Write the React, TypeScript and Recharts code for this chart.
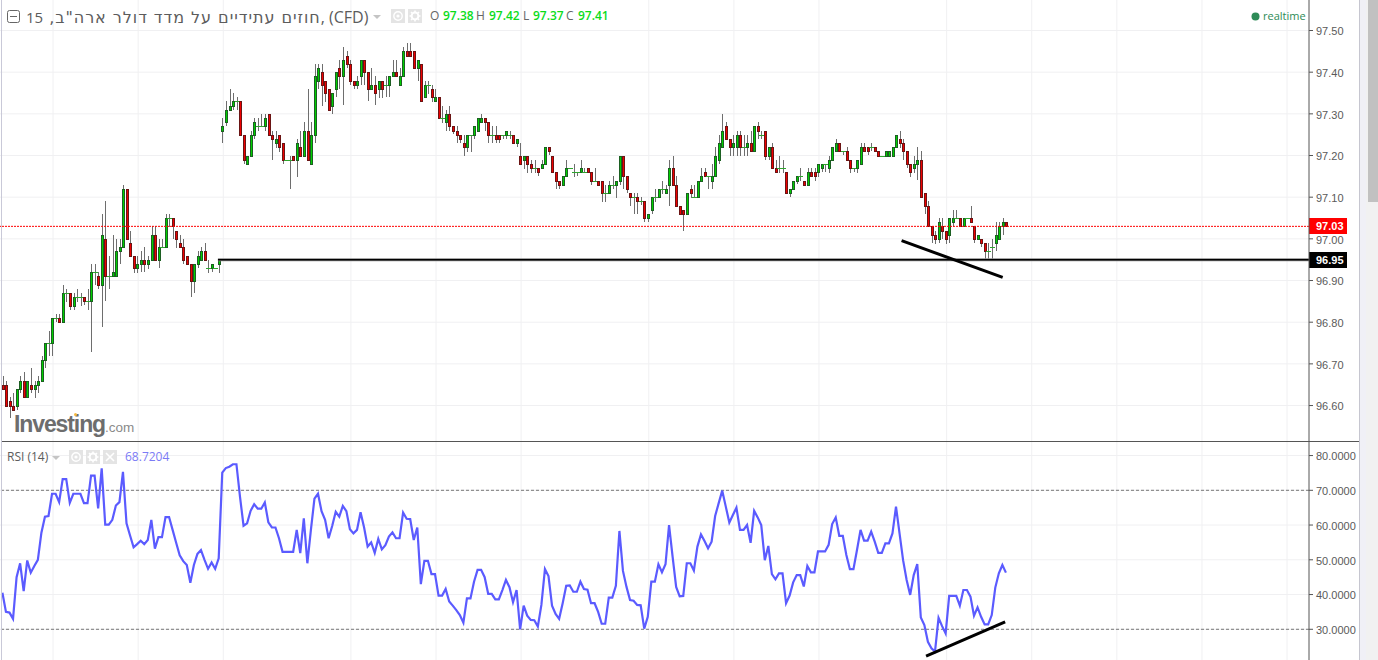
import { Bar, CartesianGrid, ComposedChart, Line, ReferenceLine, XAxis, YAxis } from "recharts";

// 15 minute candles
const opens = [
  96.65,96.65,96.61,96.60,96.60,96.64,96.66,96.62,96.65,96.64,
  96.65,96.66,96.71,96.75,96.75,96.81,96.81,96.80,96.87,96.87,
  96.84,96.86,96.86,96.86,96.85,96.85,96.92,96.91,96.89,97.00,
  96.91,96.91,96.91,96.97,96.98,97.12,96.99,96.96,96.93,96.94,
  96.95,96.94,96.95,97.01,96.95,96.98,96.98,97.05,97.05,97.02,
  96.99,96.98,96.96,96.94,96.90,96.94,96.95,96.97,96.93,96.93,
  96.93,96.94,97.26,97.28,97.31,97.32,97.33,97.33,97.25,97.18,
  97.20,97.25,97.27,97.27,97.27,97.30,97.25,97.23,97.25,97.23,
  97.19,97.19,97.20,97.19,97.22,97.20,97.26,97.18,97.25,97.38,
  97.40,97.38,97.36,97.32,97.36,97.41,97.39,97.44,97.42,97.38,
  97.37,97.39,97.43,97.40,97.36,97.37,97.36,97.38,97.37,97.37,
  97.39,97.40,97.37,97.39,97.45,97.45,97.45,97.41,97.42,97.34,
  97.37,97.36,97.33,97.34,97.29,97.28,97.30,97.27,97.26,97.25,
  97.23,97.22,97.25,97.25,97.26,97.28,97.29,97.28,97.25,97.25,
  97.25,97.25,97.25,97.25,97.25,97.23,97.20,97.19,97.20,97.18,
  97.17,97.17,97.17,97.18,97.22,97.20,97.16,97.14,97.13,97.15,
  97.17,97.16,97.16,97.16,97.16,97.17,97.16,97.14,97.14,97.14,
  97.11,97.11,97.13,97.13,97.14,97.20,97.15,97.11,97.10,97.10,
  97.09,97.09,97.05,97.07,97.10,97.10,97.12,97.11,97.13,97.17,
  97.13,97.08,97.07,97.06,97.12,97.10,97.10,97.14,97.16,97.15,
  97.14,97.15,97.19,97.22,97.27,97.24,97.22,97.22,97.25,97.22,
  97.22,97.23,97.21,97.27,97.25,97.26,97.20,97.22,97.17,97.17,
  97.17,97.16,97.11,97.12,97.14,97.15,97.14,97.13,97.16,97.16,
  97.16,97.17,97.18,97.17,97.19,97.21,97.23,97.21,97.21,97.19,
  97.17,97.17,97.18,97.22,97.22,97.22,97.22,97.21,97.20,97.20,
  97.20,97.20,97.22,97.24,97.23,97.21,97.18,97.17,97.18,97.19,
  97.11,97.08,97.03,97.01,97.00,97.03,97.02,97.01,97.04,97.05,
  97.05,97.03,97.05,97.05,97.03,97.00,97.00,96.99,96.97,96.98,
  96.99,97.00,97.03,97.04,
];
const closes = [
  96.64,96.60,96.60,96.59,96.64,96.66,96.62,96.66,96.64,96.65,
  96.66,96.71,96.75,96.75,96.81,96.81,96.80,96.87,96.87,96.84,
  96.86,96.86,96.86,96.85,96.85,96.92,96.92,96.89,97.01,96.91,
  96.91,96.92,96.97,96.98,97.12,97.00,96.96,96.93,96.94,96.95,
  96.94,96.95,97.01,96.95,96.98,96.98,97.05,97.05,97.03,97.00,
  96.98,96.95,96.94,96.90,96.94,96.96,96.97,96.95,96.93,96.94,
  96.93,96.95,97.27,97.31,97.32,97.33,97.33,97.25,97.19,97.20,
  97.25,97.28,97.27,97.27,97.29,97.25,97.24,97.24,97.22,97.19,
  97.19,97.19,97.19,97.23,97.20,97.26,97.19,97.25,97.39,97.41,
  97.37,97.35,97.31,97.35,97.40,97.39,97.43,97.42,97.38,97.37,
  97.38,97.43,97.40,97.36,97.37,97.35,97.38,97.36,97.37,97.39,
  97.40,97.39,97.39,97.45,97.44,97.44,97.41,97.43,97.33,97.37,
  97.37,97.34,97.34,97.29,97.29,97.30,97.27,97.26,97.25,97.24,
  97.22,97.25,97.25,97.27,97.29,97.29,97.28,97.25,97.25,97.24,
  97.24,97.25,97.26,97.25,97.23,97.24,97.18,97.20,97.18,97.17,
  97.17,97.16,97.18,97.22,97.21,97.16,97.14,97.13,97.15,97.17,
  97.17,97.16,97.16,97.17,97.16,97.16,97.14,97.14,97.13,97.11,
  97.11,97.13,97.13,97.14,97.20,97.15,97.12,97.10,97.10,97.09,
  97.09,97.05,97.06,97.10,97.10,97.12,97.12,97.12,97.17,97.13,
  97.08,97.06,97.06,97.11,97.11,97.10,97.14,97.15,97.15,97.15,
  97.15,97.20,97.23,97.26,97.24,97.22,97.23,97.25,97.22,97.22,
  97.23,97.21,97.27,97.26,97.25,97.20,97.22,97.17,97.16,97.17,
  97.17,97.11,97.12,97.14,97.15,97.15,97.13,97.16,97.15,97.15,
  97.18,97.18,97.18,97.19,97.22,97.23,97.21,97.21,97.19,97.17,
  97.17,97.19,97.22,97.21,97.21,97.22,97.21,97.20,97.20,97.21,
  97.21,97.22,97.25,97.23,97.21,97.18,97.16,97.18,97.19,97.10,
  97.08,97.03,97.01,97.00,97.04,97.02,97.00,97.05,97.05,97.05,
  97.03,97.05,97.05,97.04,97.00,97.01,96.99,96.97,96.97,96.98,
  97.01,97.03,97.04,97.03,
];
const highs = [
  96.67,96.66,96.62,96.63,96.64,96.67,96.68,96.66,96.69,96.66,
  96.67,96.72,96.75,96.78,96.81,96.82,96.82,96.89,96.88,96.87,
  96.87,96.88,96.87,96.86,96.88,96.94,96.94,96.92,97.06,97.09,
  96.96,97.01,97.00,97.00,97.13,97.12,97.02,96.96,96.96,96.97,
  96.98,96.96,97.03,97.03,97.00,97.00,97.06,97.06,97.05,97.02,
  97.01,97.00,96.96,96.94,96.94,96.97,96.98,96.99,96.95,96.94,
  96.93,96.95,97.29,97.33,97.36,97.35,97.34,97.33,97.25,97.20,
  97.26,97.29,97.29,97.30,97.30,97.30,97.26,97.26,97.25,97.23,
  97.19,97.20,97.20,97.24,97.26,97.28,97.36,97.28,97.42,97.42,
  97.42,97.38,97.36,97.35,97.40,97.43,97.46,97.45,97.43,97.38,
  97.39,97.43,97.43,97.40,97.41,97.39,97.38,97.38,97.39,97.39,
  97.43,97.43,97.41,97.46,97.47,97.47,97.45,97.43,97.42,97.38,
  97.38,97.37,97.36,97.34,97.32,97.31,97.32,97.27,97.27,97.25,
  97.25,97.25,97.25,97.27,97.29,97.30,97.29,97.28,97.27,97.27,
  97.25,97.25,97.26,97.26,97.25,97.24,97.23,97.20,97.20,97.19,
  97.19,97.17,97.19,97.22,97.22,97.20,97.16,97.14,97.15,97.19,
  97.17,97.18,97.16,97.19,97.17,97.17,97.16,97.17,97.14,97.14,
  97.13,97.14,97.15,97.14,97.20,97.20,97.15,97.11,97.11,97.11,
  97.10,97.09,97.06,97.10,97.12,97.12,97.14,97.13,97.19,97.20,
  97.15,97.08,97.07,97.11,97.13,97.13,97.14,97.17,97.17,97.15,
  97.18,97.22,97.25,97.30,97.28,97.24,97.25,97.26,97.26,97.25,
  97.25,97.26,97.27,97.28,97.26,97.26,97.22,97.23,97.19,97.20,
  97.19,97.16,97.12,97.14,97.15,97.17,97.14,97.17,97.17,97.17,
  97.18,97.18,97.18,97.20,97.22,97.24,97.23,97.21,97.22,97.19,
  97.17,97.19,97.23,97.23,97.22,97.23,97.22,97.21,97.20,97.21,
  97.21,97.22,97.25,97.26,97.24,97.21,97.18,97.20,97.22,97.21,
  97.11,97.09,97.03,97.02,97.05,97.05,97.02,97.05,97.07,97.07,
  97.05,97.05,97.05,97.08,97.03,97.01,97.00,96.99,96.99,97.00,
  97.04,97.04,97.05,97.04,
];
const lows = [
  96.64,96.60,96.57,96.59,96.59,96.63,96.62,96.62,96.63,96.62,
  96.63,96.66,96.69,96.72,96.72,96.80,96.80,96.80,96.85,96.83,
  96.83,96.85,96.84,96.84,96.83,96.73,96.89,96.88,96.79,96.85,
  96.88,96.91,96.91,96.94,96.98,97.00,96.96,96.92,96.92,96.92,
  96.92,96.93,96.95,96.95,96.93,96.98,96.98,97.03,97.00,96.98,
  96.98,96.94,96.94,96.86,96.87,96.93,96.95,96.95,96.92,96.92,
  96.93,96.92,97.23,97.27,97.31,97.31,97.31,97.25,97.18,97.18,
  97.20,97.24,97.26,97.27,97.26,97.25,97.19,97.22,97.21,97.18,
  97.19,97.12,97.19,97.15,97.20,97.20,97.19,97.18,97.23,97.36,
  97.32,97.33,97.31,97.30,97.34,97.36,97.32,97.41,97.37,97.36,
  97.36,97.37,97.37,97.33,97.36,97.32,97.34,97.34,97.34,97.34,
  97.39,97.39,97.37,97.39,97.44,97.44,97.41,97.38,97.33,97.34,
  97.35,97.33,97.33,97.29,97.28,97.26,97.26,97.25,97.23,97.23,
  97.20,97.21,97.21,97.24,97.26,97.28,97.26,97.23,97.23,97.23,
  97.23,97.24,97.24,97.24,97.23,97.22,97.18,97.17,97.16,97.16,
  97.16,97.15,97.17,97.18,97.20,97.16,97.12,97.12,97.13,97.15,
  97.17,97.15,97.15,97.16,97.16,97.16,97.13,97.14,97.13,97.09,
  97.09,97.11,97.12,97.10,97.13,97.12,97.11,97.08,97.06,97.06,
  97.08,97.04,97.04,97.06,97.09,97.10,97.11,97.11,97.08,97.13,
  97.08,97.06,97.02,97.06,97.10,97.10,97.10,97.14,97.15,97.12,
  97.12,97.15,97.18,97.22,97.24,97.20,97.20,97.20,97.20,97.20,
  97.20,97.21,97.21,97.24,97.24,97.19,97.19,97.17,97.16,97.16,
  97.16,97.11,97.10,97.12,97.13,97.14,97.13,97.13,97.15,97.14,
  97.15,97.16,97.16,97.16,97.19,97.21,97.21,97.20,97.19,97.16,
  97.16,97.16,97.18,97.21,97.20,97.21,97.21,97.20,97.20,97.20,
  97.20,97.20,97.22,97.22,97.19,97.17,97.15,97.16,97.14,97.10,
  97.06,97.03,96.99,96.99,96.99,97.00,96.99,96.99,97.03,97.05,
  97.03,97.03,97.05,97.04,96.99,97.00,96.98,96.95,96.95,96.95,
  96.97,97.00,97.01,97.03,
];
const rsiValues = [
  40.5,35,34.8,33,45,49,41,49.8,46.3,48.2,
  50,57.8,62.4,62.6,69,69,66.6,73.2,73.2,66.4,
  69,69,69,66.3,66.3,74.2,74.2,64.8,76.3,60.1,
  60.1,61.5,65.6,66.6,75.3,60.5,57,53.6,54.5,55.5,
  54.5,55.7,61.5,53.2,56.5,56.5,62.3,62.3,58.6,54.9,
  51.3,49.6,48.5,43.4,48.5,51.7,52.8,50,47.4,49.2,
  47.4,50.4,75.1,76.4,76.8,77.5,77.5,68.2,59.8,60.5,
  64.1,66,64.7,64.7,66.5,60.8,59.3,59.3,56.2,52.3,
  52.3,52.3,52.3,58.6,51.9,61.9,49,58.6,67.6,69,
  64,61.5,56.2,59.7,63.8,62.4,65.5,64,58.8,57.6,
  58.6,63.7,59.3,53.8,55,52,56,53,54.2,56.7,
  57.9,56.2,56.2,63.6,61.8,61.7,55.7,59.3,43,49.7,
  49.7,45.9,45.9,39.7,39.7,41.6,38,36.8,35.5,34.1,
  31.9,38.9,38.9,43.7,47.1,47.1,45,40.2,40.2,38.6,
  38.6,41.3,44.2,42.1,37.8,41.3,30,36.8,33.9,32.7,
  32.6,30.8,37,47.3,45.3,36.8,34.4,33,37.5,42.5,
  42.6,40.8,40.8,43.7,41.6,41.4,37.5,37.5,35,31.6,
  31.6,39.1,39.1,42.5,58.3,46.8,42.2,38.4,38.2,37,
  36.9,30.2,33.6,43.7,43.7,48.7,46.4,48.7,60,50.9,
  42.2,39.5,39.6,49,49,46.9,53.8,57.3,55.4,53.3,
  55.2,62.6,66.3,69.9,65.3,60.7,62.9,65,58.6,58.6,
  60,54.9,64.1,62.2,60,49.9,54,45.9,44.4,46.1,
  46.1,37.5,39.7,43.5,45.6,45.6,42.3,48.2,46.4,46.4,
  52.4,52.4,52.4,54.3,60.3,62.2,56.9,56.9,51.4,47.3,
  47.3,52.8,58.6,55.5,55.5,58.1,55.2,52,52,54.7,
  54.7,57.6,65.3,57.6,49.9,44.2,39.9,45.6,48.8,33.4,
  31.2,26.4,24.5,23.6,33.3,30.9,28.8,39.6,39.6,39.6,
  36.8,41.3,41.3,39.4,33.9,36.3,33.6,31.4,31.4,34.1,
  42,46.1,48.5,46.3,
];

const priceTicks = [96.6, 96.7, 96.8, 96.9, 97.0, 97.1, 97.2, 97.3, 97.4, 97.5];
const rsiTicks = [30, 40, 50, 60, 70, 80];
// bars that carry a vertical grid line
const gridBars = [14, 38, 62, 98, 122, 146, 182, 206, 230, 266, 290, 314, 338, 362];

const lastPrice = 97.03;
const levelPrice = 96.95;
const priceTrend = [{ i: 253.3, v: 96.9956 }, { i: 281.8, v: 96.9077 }];
const rsiTrend = [{ i: 260.2, v: 22.3 }, { i: 282.5, v: 32.1 }];
const ohlcHeader = [
  { label: "O", x: 430, value: "97.38", vx: 443 },
  { label: "H", x: 476, value: "97.42", vx: 489 },
  { label: "L", x: 523, value: "97.37", vx: 533 },
  { label: "C", x: 566, value: "97.41", vx: 578 },
];

const candles = opens.map((open, i) => ({
  i,
  open,
  high: highs[i],
  low: lows[i],
  close: closes[i],
  rsi: rsiValues[i],
}));

const WIDTH = 1359;
const PLOT = 1309;
const xDomain: [number, number] = [-0.959, 368.19];
// the rsi line sits a pixel left of the candles
const rsiXDomain: [number, number] = [-0.677, 368.47];
const sans = "'Liberation Sans', Arial, sans-serif";
const ui = "'Open Sans', sans-serif";
const tickStyle = { fill: "#5a5a5a", fontSize: 11, fontFamily: sans, dy: 1 };
const GRID = "#f0f0f2";

function Candle(props: any) {
  const { x, y, width, height, payload } = props;
  const { open, close, high, low } = payload;
  const span = high - low || 1;
  const px = (v: number) => Math.round(y + ((high - v) / span) * height);
  const left = Math.round(x + width / 2 - 1.5);
  const top = px(Math.max(open, close));
  const bottom = px(Math.min(open, close));
  const wick = (
    <rect x={left + 1} y={Math.round(y)} width={1} height={Math.max(Math.round(height), 1)} fill="#6e6e6e" />
  );
  if (open === close) {
    return (
      <g>
        {wick}
        <rect x={left - 1} y={top} width={5} height={1} fill="#2fa52f" />
      </g>
    );
  }
  const up = close > open;
  return (
    <g>
      {wick}
      <rect
        x={left + 0.5}
        y={top + 0.5}
        width={2}
        height={bottom - top}
        fill={up ? "#00d000" : "#ee0000"}
        stroke={up ? "#1c5f22" : "#6a1414"}
        strokeWidth={1}
      />
    </g>
  );
}

function PriceTag(props: any) {
  const { viewBox, text, fill } = props;
  const y = Math.round(viewBox.y);
  return (
    <g>
      <rect x={PLOT} y={y - 8} width={38} height={16} fill={fill} />
      <text x={PLOT + 7} y={y + 4} fill="#fff" fontSize={11} fontWeight="bold" fontFamily={sans}>
        {text}
      </text>
    </g>
  );
}

function IconBox({ x, y, kind }: { x: number; y: number; kind: "eye" | "gear" | "close" }) {
  return (
    <svg style={{ position: "absolute", left: x, top: y }} width={14} height={14}>
      <rect width={14} height={14} fill="#e4e4e4" />
      {kind === "eye" && (
        <>
          <circle cx={7} cy={7} r={4.2} fill="none" stroke="#fff" strokeWidth={1.4} />
          <circle cx={7} cy={7} r={1.6} fill="#fff" />
        </>
      )}
      {kind === "gear" && (
        <>
          <circle cx={7} cy={7} r={3.4} fill="none" stroke="#fff" strokeWidth={2} />
          <path d="M7 1.5V3.5M7 10.5V12.5M1.5 7H3.5M10.5 7H12.5M3 3L4.4 4.4M9.6 9.6L11 11M11 3L9.6 4.4M4.4 9.6L3 11" stroke="#fff" strokeWidth={1.5} />
        </>
      )}
      {kind === "close" && <path d="M3 3L11 11M11 3L3 11" stroke="#fff" strokeWidth={1.6} />}
    </svg>
  );
}

function Caret({ x, y }: { x: number; y: number }) {
  return (
    <svg style={{ position: "absolute", left: x, top: y }} width={8} height={4}>
      <path d="M0 0H8L4 4Z" fill="#c4c4c4" />
    </svg>
  );
}

function Label({ x, y, color, size, children, weight, font }: any) {
  return (
    <div
      style={{
        position: "absolute",
        left: x,
        top: y,
        color,
        fontSize: size,
        fontWeight: weight || 400,
        fontFamily: font || ui,
        lineHeight: "18px",
        whiteSpace: "nowrap",
      }}
    >
      {children}
    </div>
  );
}

export default function App() {
  return (
    <div style={{ position: "fixed", left: 0, top: 0, width: 1378, height: 660, overflow: "hidden", background: "#fff" }}>
      <div style={{ position: "absolute", left: 0, top: 0 }}>
        <ComposedChart width={WIDTH} height={441} data={candles} margin={{ top: 0, right: 0, bottom: 0, left: 0 }}>
          <CartesianGrid stroke={GRID} horizontalValues={priceTicks} verticalValues={gridBars} />
          <XAxis dataKey="i" type="number" domain={xDomain} hide allowDataOverflow />
          <YAxis
            orientation="right"
            width={50}
            domain={[96.5149, 97.5732]}
            ticks={priceTicks}
            interval={0}
            allowDataOverflow
            tickFormatter={(v: number) => v.toFixed(2)}
            tick={tickStyle}
            tickSize={4}
            tickMargin={3}
            stroke="#555"
          />
          <ReferenceLine y={lastPrice} stroke="#f00" strokeDasharray="2 1" label={<PriceTag text={lastPrice.toFixed(2)} fill="#f00" />} />
          <Bar dataKey={(d: any) => [d.low, d.high]} barSize={3} shape={<Candle />} isAnimationActive={false} />
          <ReferenceLine
            segment={[{ x: 60.5, y: levelPrice }, { x: xDomain[1], y: levelPrice }]}
            stroke="#8a8a8a"
            strokeWidth={3}
          />
          <ReferenceLine
            segment={[{ x: 60.5, y: levelPrice }, { x: xDomain[1], y: levelPrice }]}
            stroke="#000"
            strokeWidth={1.5}
          />
          <ReferenceLine y={levelPrice} stroke="none" label={<PriceTag text={levelPrice.toFixed(2)} fill="#000" />} />
          <ReferenceLine
            segment={[{ x: priceTrend[0].i, y: priceTrend[0].v }, { x: priceTrend[1].i, y: priceTrend[1].v }]}
            stroke="#000"
            strokeWidth={3}
          />
        </ComposedChart>
      </div>
      <div style={{ position: "absolute", left: 0, top: 442 }}>
        <ComposedChart width={WIDTH} height={218} data={candles} margin={{ top: 0, right: 0, bottom: 0, left: 0 }}>
          <CartesianGrid stroke={GRID} horizontalValues={rsiTicks} verticalValues={gridBars} />
          <XAxis dataKey="i" type="number" domain={xDomain} hide allowDataOverflow />
          <XAxis xAxisId="rsi" dataKey="i" type="number" domain={rsiXDomain} hide allowDataOverflow />
          <YAxis
            orientation="right"
            width={50}
            domain={[21.16, 83.9]}
            ticks={rsiTicks}
            interval={0}
            allowDataOverflow
            tickFormatter={(v: number) => v.toFixed(4)}
            tick={tickStyle}
            tickSize={4}
            tickMargin={3}
            stroke="#555"
          />
          <ReferenceLine y={70} stroke="#777" strokeDasharray="3 2" />
          <ReferenceLine y={30} stroke="#777" strokeDasharray="3 2" />
          <Line xAxisId="rsi" dataKey="rsi" type="linear" stroke="#5b5bff" strokeWidth={2.2} dot={false} isAnimationActive={false} />
          <ReferenceLine
            segment={[{ x: rsiTrend[0].i, y: rsiTrend[0].v }, { x: rsiTrend[1].i, y: rsiTrend[1].v }]}
            stroke="#000"
            strokeWidth={3}
          />
        </ComposedChart>
      </div>

      {/* frame */}
      <div style={{ position: "absolute", left: 1, top: 0, width: 1, height: 660, background: "#c9c9d8" }} />
      <div style={{ position: "absolute", left: 2, top: 441, width: 1357, height: 1, background: "#555" }} />
      <div style={{ position: "absolute", left: 1359, top: 0, width: 1, height: 660, background: "#c6c6d0" }} />
      <div style={{ position: "absolute", left: 1360, top: 0, width: 6, height: 660, background: "#f0f0f6" }} />
      <div style={{ position: "absolute", left: 1366, top: 0, width: 12, height: 660, background: "#f1f1f1" }} />
      <div style={{ position: "absolute", left: 1368, top: 0, width: 10, height: 202, background: "#c1c1c1" }} />

      {/* header */}
      <svg style={{ position: "absolute", left: 7, top: 10 }} width={13} height={13}>
        <rect x={0.5} y={0.5} width={12} height={12} rx={2} fill="none" stroke="#666" />
        <path d="M3 6.5H10" stroke="#666" />
      </svg>
      <Label x={26} y={8} color="#5c5c5c" size={15}>
        <span style={{ fontFamily: "'DejaVu Sans', sans-serif", fontSize: 16, letterSpacing: 0.95 }}>{'חוזים עתידיים על מדד דולר ארה"ב, '}</span>
        <span>15</span>
        <span style={{ fontSize: 16 }}>, (CFD)</span>
      </Label>
      <Caret x={373} y={15} />
      <IconBox x={391} y={9} kind="eye" />
      <IconBox x={408} y={9} kind="gear" />
      {ohlcHeader.map((h) => (
        <span key={h.label}>
          <Label x={h.x} y={7} color="#666" size={12}>{h.label}</Label>
          <Label x={h.vx} y={7} color="#0bdc1a" size={12} weight={600}>{h.value}</Label>
        </span>
      ))}
      <svg style={{ position: "absolute", left: 1251, top: 12 }} width={9} height={9}>
        <circle cx={4.5} cy={4.5} r={4} fill="#2e8b57" />
      </svg>
      <Label x={1263} y={7} color="#2e8b57" size={11}>realtime</Label>

      {/* logo */}
      <div style={{ position: "absolute", left: 14, top: 409, fontFamily: sans, lineHeight: "30px", whiteSpace: "nowrap", color: "#6d6d6d" }}>
        <span style={{ fontSize: 23, fontWeight: 700, letterSpacing: -1.1 }}>Investing</span>
        <span style={{ fontSize: 13.5, color: "#8a8a8a" }}>.com</span>
      </div>
      <div style={{ position: "absolute", left: 74, top: 413, width: 3, height: 3, background: "#f5b942", borderRadius: 2 }} />

      {/* rsi header */}
      <Label x={7} y={448} color="#5c5c5c" size={12}>RSI (14)</Label>
      <Caret x={52} y={456} />
      <IconBox x={69} y={450} kind="eye" />
      <IconBox x={86} y={450} kind="gear" />
      <IconBox x={103} y={450} kind="close" />
      <Label x={125} y={448} color="#7b7bf5" size={12}>68.7204</Label>
    </div>
  );
}
